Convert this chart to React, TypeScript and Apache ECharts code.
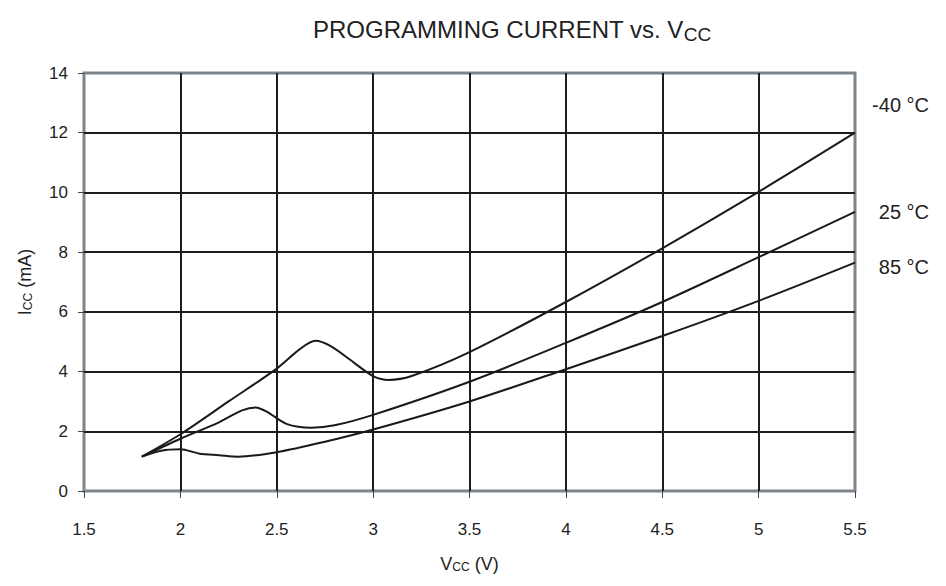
import React, { useEffect, useRef } from "react";
import * as echarts from "echarts";

const xTicks = [1.5, 2, 2.5, 3, 3.5, 4, 4.5, 5, 5.5];
const yTicks = [0, 2, 4, 6, 8, 10, 12, 14];

const seriesNames = ["-40 °C", "25 °C", "85 °C"];

const tMinus40: [number, number][] = [
  [1.8, 1.15], [2.0, 1.9], [2.25, 3.0], [2.5, 4.1], [2.62, 4.75], [2.7, 5.03],
  [2.78, 4.85], [2.9, 4.3], [3.0, 3.85], [3.08, 3.72], [3.2, 3.85], [3.5, 4.65],
  [4.0, 6.33], [4.5, 8.13], [5.0, 10.02], [5.5, 12.0],
];

const t25: [number, number][] = [
  [1.8, 1.15], [2.0, 1.75], [2.2, 2.3], [2.32, 2.7], [2.39, 2.8], [2.45, 2.65],
  [2.55, 2.25], [2.68, 2.12], [2.8, 2.2], [3.0, 2.55], [3.5, 3.66], [4.0, 4.96],
  [4.5, 6.33], [5.0, 7.83], [5.5, 9.35],
];

const t85: [number, number][] = [
  [1.8, 1.15], [1.9, 1.35], [2.0, 1.4], [2.1, 1.25], [2.2, 1.2], [2.3, 1.15],
  [2.5, 1.3], [2.75, 1.65], [3.0, 2.06], [3.5, 3.0], [4.0, 4.08], [4.5, 5.19],
  [5.0, 6.37], [5.5, 7.65],
];

const seriesData = [tMinus40, t25, t85];
const labelY = [106, 213, 268];

const FONT = "'Liberation Sans', Arial, Helvetica, sans-serif";

export default function App() {
  const ref = useRef<HTMLDivElement>(null);
  useEffect(() => {
    if (!ref.current) return;
    const chart = echarts.init(ref.current, null, { renderer: "svg" });
    const gray = "#7d848c";
    chart.setOption({
      animation: false,
      backgroundColor: "#ffffff",
      textStyle: { fontFamily: FONT, color: "#222" },
      title: {
        text: "PROGRAMMING CURRENT vs. V{s|CC}",
        left: 300,
        top: 2,
        textStyle: {
          fontFamily: FONT,
          fontSize: 24,
          fontWeight: "normal",
          color: "#222",
          rich: {
            s: { fontFamily: FONT, fontSize: 19, color: "#222", padding: [10, 0, 0, 0] },
          },
        },
      },
      grid: {
        left: 74,
        right: 83,
        top: 65,
        bottom: 76,
        show: true,
        borderColor: gray,
        borderWidth: 3,
      },
      xAxis: {
        type: "value",
        min: 1.5,
        max: 5.5,
        interval: 0.5,
        name: "V{s|CC} (V)",
        nameLocation: "middle",
        nameGap: 64,
        nameTextStyle: {
          fontFamily: FONT,
          fontSize: 18,
          color: "#222",
          rich: { s: { fontFamily: FONT, fontSize: 12, color: "#222", padding: [6, 0, 0, 0] } },
        },
        axisLine: { show: false },
        axisTick: { show: true, length: 7, lineStyle: { color: "#444", width: 1 } },
        axisLabel: {
          margin: 30,
          fontFamily: FONT,
          fontSize: 17,
          color: "#222",
          formatter: (v: number) => (xTicks.includes(v) ? String(v) : ""),
        },
        splitLine: {
          show: true,
          showMinLine: false,
          showMaxLine: false,
          lineStyle: { color: "#1e1e1e", width: 2 },
        },
      },
      yAxis: {
        type: "value",
        min: 0,
        max: 14,
        interval: 2,
        name: "I{s|CC} (mA)",
        nameLocation: "middle",
        nameGap: 50,
        nameRotate: 90,
        nameTextStyle: {
          fontFamily: FONT,
          fontSize: 18,
          color: "#222",
          rich: { s: { fontFamily: FONT, fontSize: 12, color: "#222", padding: [6, 0, 0, 0] } },
        },
        axisLine: { show: false },
        axisTick: { show: true, length: 6, lineStyle: { color: "#444", width: 1 } },
        axisLabel: {
          margin: 16,
          fontFamily: FONT,
          fontSize: 17,
          color: "#222",
          formatter: (v: number) => (yTicks.includes(v) ? String(v) : ""),
        },
        splitLine: {
          show: true,
          showMinLine: false,
          showMaxLine: false,
          lineStyle: { color: "#1e1e1e", width: 2 },
        },
      },
      series: seriesData.map((d, i) => ({
        name: seriesNames[i],
        type: "line",
        data: d,
        smooth: 0.3,
        showSymbol: false,
        symbol: "none",
        lineStyle: { color: "#1a1a1a", width: 2 },
        z: 5,
      })),
      graphic: seriesNames.map((n, i) => ({
        type: "text",
        right: 9,
        top: labelY[i] - 19,
        style: {
          text: n,
          fontFamily: FONT,
          fontSize: 20,
          fill: "#222",
        },
      })),
    });
    return () => chart.dispose();
  }, []);
  return <div ref={ref} style={{ width: 930, height: 570 }} />;
}
